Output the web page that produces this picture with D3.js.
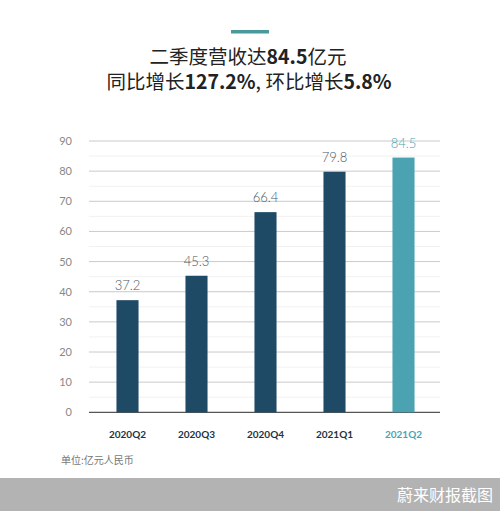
<!DOCTYPE html>
<html>
<head>
<meta charset="utf-8">
<script src="https://cdn.jsdelivr.net/npm/d3@7"></script>
<style>
  body { margin: 0; background: #fff; }
  svg { display: block; font-family: "Noto Sans CJK SC", "Noto Sans", sans-serif; }
</style>
</head>
<body>
<script>
var quarters = ["2020Q2", "2020Q3", "2020Q4", "2021Q1", "2021Q2"],
    revenue  = [37.2, 45.3, 66.4, 79.8, 84.5],
    yTicks   = [0, 10, 20, 30, 40, 50, 60, 70, 80, 90],
    minorTicks = [5, 15, 25, 35, 45, 55, 65, 75, 85];

var W = 500, H = 511,
    dark = "#1e4a66", teal = "#4ba3b2";

var svg = d3.select("body").append("svg").attr("width", W).attr("height", H);

var x = d3.scaleBand().domain(quarters).range([93, 438]).paddingInner(0.68).paddingOuter(0.34),
    y = d3.scaleLinear().domain([0, 90]).range([412.3, 141]);

// title
svg.append("rect").attr("x", 231).attr("y", 30).attr("width", 38).attr("height", 3.5).attr("fill", "#4a9a9c");

var t1 = svg.append("text").attr("x", 248).attr("y", 64).attr("text-anchor", "middle")
  .attr("font-size", 19.5).attr("fill", "#222");
t1.append("tspan").text("二季度营收达");
t1.append("tspan").attr("font-weight", "bold").text("84.5");
t1.append("tspan").text("亿元");

var t2 = svg.append("text").attr("x", 249).attr("y", 89).attr("text-anchor", "middle")
  .attr("font-size", 19.5).attr("fill", "#222");
t2.append("tspan").text("同比增长");
t2.append("tspan").attr("font-weight", "bold").text("127.2%");
t2.append("tspan").text(", 环比增长");
t2.append("tspan").attr("font-weight", "bold").text("5.8%");

// grid
svg.selectAll(".minor").data(minorTicks).enter().append("line")
  .attr("x1", 89).attr("x2", 440)
  .attr("y1", function(d){ return y(d); }).attr("y2", function(d){ return y(d); })
  .attr("stroke", "#f1f1f1").attr("stroke-width", 1);

svg.selectAll(".major").data(yTicks.slice(1)).enter().append("line")
  .attr("x1", 89).attr("x2", 440)
  .attr("y1", function(d){ return y(d); }).attr("y2", function(d){ return y(d); })
  .attr("stroke", "#cacaca").attr("stroke-width", 1);

svg.append("line").attr("x1", 89).attr("x2", 440).attr("y1", y(0)).attr("y2", y(0))
  .attr("stroke", "#555").attr("stroke-width", 1.2);

svg.selectAll(".ytick").data(yTicks).enter().append("text")
  .attr("x", 72).attr("y", function(d){ return y(d) + 4; })
  .attr("text-anchor", "end").attr("font-size", 11).attr("fill", "#888")
  .attr("font-family", "Lato, sans-serif")
  .text(function(d){ return d; });

// bars
svg.selectAll(".bar").data(revenue).enter().append("rect")
  .attr("x", function(d, i){ return x(quarters[i]); })
  .attr("y", function(d){ return y(d); })
  .attr("width", x.bandwidth())
  .attr("height", function(d){ return y(0) - y(d); })
  .attr("fill", function(d, i){ return i === quarters.length - 1 ? teal : dark; });

svg.selectAll(".val").data(revenue).enter().append("text")
  .attr("x", function(d, i){ return x(quarters[i]) + x.bandwidth() / 2; })
  .attr("y", function(d){ return y(d) - 10; })
  .attr("text-anchor", "middle").attr("font-size", 13)
  .attr("font-family", "Lato, sans-serif").attr("font-weight", 300)
  .attr("fill", function(d, i){ return i === quarters.length - 1 ? teal : "#46575f"; })
  .text(function(d){ return d.toFixed(1); });

svg.selectAll(".xlab").data(quarters).enter().append("text")
  .attr("x", function(d){ return x(d) + x.bandwidth() / 2; })
  .attr("y", 438)
  .attr("text-anchor", "middle").attr("font-size", 10).attr("font-weight", "bold")
  .attr("font-family", "Lato, sans-serif")
  .attr("fill", function(d, i){ return i === quarters.length - 1 ? teal : "#1c3442"; })
  .text(function(d){ return d; });

svg.append("text").attr("x", 61).attr("y", 464).attr("font-size", 10).attr("fill", "#777")
  .text("单位:亿元人民币");

// footer band
svg.append("rect").attr("x", 0).attr("y", 478).attr("width", W).attr("height", H - 478).attr("fill", "#b3b3b3");
svg.append("text").attr("x", 493).attr("y", 501).attr("text-anchor", "end")
  .attr("font-size", 16).attr("fill", "#fff").text("蔚来财报截图");
</script>
</body>
</html>
